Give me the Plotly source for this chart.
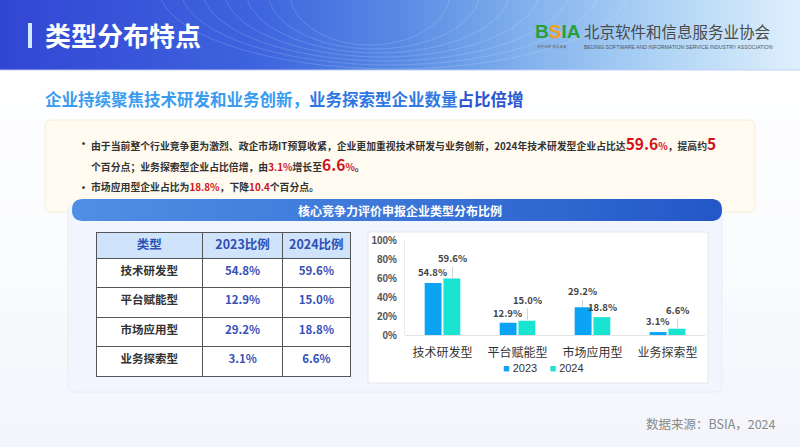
import plotly.graph_objects as go

W, H = 800, 447
FONT = "Noto Sans CJK SC"

# 数据
categories = ["技术研发型", "平台赋能型", "市场应用型", "业务探索型"]
share_2023 = [54.8, 12.9, 29.2, 3.1]
share_2024 = [59.6, 15.0, 18.8, 6.6]
years = ["2023", "2024"]
y_ticks = [0, 20, 40, 60, 80, 100]

# 数据标签抬高(px), 超过10就画引线
lift_2023 = [8, 7, 11, 8]
lift_2024 = [15, 16, 7, 14]

C23 = "#0ba3f4"
C24 = "#19e3d1"


def px(x):
    return x / W


def py(y):
    return 1 - y / H


def mix(stops, t):
    for (t0, c0), (t1, c1) in zip(stops, stops[1:]):
        if t <= t1:
            f = (t - t0) / (t1 - t0)
            return "rgb(%d,%d,%d)" % tuple(round(a + (b - a) * f) for a, b in zip(c0, c1))
    return "rgb(%d,%d,%d)" % stops[-1][1]


def rounded(x0, y0, x1, y1, r):
    rx, ry = r / W, r / H
    a, b, c, d = px(x0), py(y0), px(x1), py(y1)
    return (f"M{a+rx},{b} L{c-rx},{b} Q{c},{b} {c},{b-ry} L{c},{d+ry} Q{c},{d} {c-rx},{d} "
            f"L{a+rx},{d} Q{a},{d} {a},{d+ry} L{a},{b-ry} Q{a},{b} {a+rx},{b} Z")


shapes = []


def rect(x0, y0, x1, y1, fill, line=None, lw=0):
    shapes.append(dict(type="rect", xref="paper", yref="paper", layer="below",
                       x0=px(x0), x1=px(x1), y0=py(y1), y1=py(y0),
                       fillcolor=fill, line=dict(width=lw, color=line or fill)))


# 页面底色 (上白下浅灰蓝)
bg_stops = [(0, (254, 254, 255)), (0.45, (251, 252, 254)), (1, (243, 245, 251))]
for i in range(38):
    rect(-10, 70 + i * 10, 810, 70 + i * 10 + 10.6, mix(bg_stops, i / 37))

# 顶部渐变条
head_stops = [(0, (50, 70, 212)), (0.32, (62, 100, 222)), (0.5, (88, 138, 228)),
              (0.68, (135, 182, 238)), (0.85, (180, 215, 246)), (1, (222, 239, 252))]
for i in range(102):
    rect(i * 8 - 8, -15, i * 8 + 0.6, 70, mix(head_stops, min(max(i - 1, 0) / 99, 1)))
# 等高线装饰
for k in range(7):
    shapes.append(dict(type="circle", xref="paper", yref="paper", layer="below",
                       x0=px(330 - 40 - k * 22), x1=px(330 + 120 + k * 30),
                       y0=py(45 + k * 4), y1=py(-60 - k * 6),
                       line=dict(color="rgba(255,255,255,0.2)", width=0.8)))
rect(0, 69.5, 800, 70.5, "rgba(190,205,245,0.9)")
rect(28, 23, 32, 48, "#cfe9ff")

# 黄色说明框
shapes.append(dict(type="path", xref="paper", yref="paper", layer="below",
                   path=rounded(45, 120, 755, 212, 6), fillcolor="#fffbf0",
                   line=dict(color="#f6eedc", width=1)))

# 下方面板
shapes.append(dict(type="path", xref="paper", yref="paper", layer="below",
                   path=rounded(68, 205, 722, 392, 6), fillcolor="#f2f5fd",
                   line=dict(color="#e8edf8", width=1)))

# 蓝色标题条
band_stops = [(0, (78, 142, 228)), (0.5, (60, 118, 216)), (1, (36, 88, 200))]
n_band = 63
for i in range(n_band):
    x0 = 83 + i * 10
    rect(x0, 199, x0 + 10.6, 221, mix(band_stops, i / (n_band - 1)))
shapes.append(dict(type="path", xref="paper", yref="paper", layer="below",
                   path=rounded(72, 199, 94, 221, 11), fillcolor=mix(band_stops, 0),
                   line=dict(width=0)))
shapes.append(dict(type="path", xref="paper", yref="paper", layer="below",
                   path=rounded(700, 199, 722, 221, 11), fillcolor=mix(band_stops, 1),
                   line=dict(width=0)))

# 图表白框
rect(368, 232, 708, 383, "#ffffff", "#e4e7ee", 1)

fig = go.Figure()

# 表格
fig.add_trace(go.Table(
    domain=dict(x=[px(96), px(350)], y=[py(380), py(232)]),
    columnwidth=[106, 80, 67],
    header=dict(values=["类型", "2023比例", "2024比例"],
                fill_color="#cfe4fb", line=dict(color="#555555", width=1),
                align="center", height=26,
                font=dict(family=FONT, size=12.5, color="#2f4fb3", weight="bold")),
    cells=dict(values=[categories,
                       ["%.1f%%" % v for v in share_2023],
                       ["%.1f%%" % v for v in share_2024]],
               fill_color="#ffffff", line=dict(color="#555555", width=1),
               align="center", height=29.5,
               font=dict(family=FONT, size=11.5, weight="bold",
                         color=[["#333333"] * 4, ["#3550b8"] * 4, ["#3550b8"] * 4])),
))

# 柱状图
fig.add_trace(go.Bar(x=categories, y=share_2023, name=years[0], marker_color=C23,
                     marker_line_width=0))
fig.add_trace(go.Bar(x=categories, y=share_2024, name=years[1], marker_color=C24,
                     marker_line_width=0))

annotations = []


def bar_label(cat, val, shift, lift):
    txt = "<b>%.1f%%</b>" % val
    if lift > 10:
        annotations.append(dict(x=cat, y=val, xref="x", yref="y", text=txt,
                                showarrow=True, ax=0, ay=-lift - 5, xshift=shift,
                                arrowhead=0, arrowwidth=0.8, arrowcolor="#c8c8c8",
                                standoff=0,
                                font=dict(family=FONT, size=9.5, color="#444444")))
    else:
        annotations.append(dict(x=cat, y=val, xref="x", yref="y", text=txt,
                                showarrow=False, yanchor="bottom", xshift=shift,
                                yshift=lift - 6,
                                font=dict(family=FONT, size=9.5, color="#444444")))


for c, v, l in zip(categories, share_2023, lift_2023):
    bar_label(c, v, -10, l)
for c, v, l in zip(categories, share_2024, lift_2024):
    bar_label(c, v, 10, l)


def note(x, y, text, size, color="#333333", xanchor="left", family=FONT):
    annotations.append(dict(x=px(x), y=py(y), xref="paper", yref="paper", text=text,
                            showarrow=False, xanchor=xanchor, yanchor="middle",
                            font=dict(family=family, size=size, color=color)))


RED = "#d0121b"


def red(s, size=None):
    st = "color:%s" % RED
    if size:
        st += ";font-size:%spx" % size
    return "<span style='%s'>%s</span>" % (st, s)


note(43, 35, "<b>类型分布特点</b>", 26, "#ffffff")

# 协会标识
note(533, 31, "<b><span style='color:#2a9e3a'>B</span><span style='color:#f2a019'>S</span>"
     "<span style='color:#2a9e3a'>IA</span></b>", 19, family="Liberation Sans")
note(582, 31, "北京软件和信息服务业协会", 15.5, "#4a4a4a")
note(582, 47, "BEIJING SOFTWARE AND INFORMATION SERVICE INDUSTRY ASSOCIATION", 5.2, "#555555",
     family="Liberation Sans")
note(535, 46, "软件无限  服务未来", 3.5, "#666666")

note(43, 99, "<b><span style='color:#3a9cf0'>企业持续聚焦技术研发和业务创新，</span>"
     "<span style='color:#2f78e4'>业务探索型企业数量</span>"
     "<span style='color:#2b55d2'>占比倍增</span></b>", 16.5)

# 要点
for yy in [143, 187]:
    note(76, yy, "<b>·</b>", 11, "#333333")
big = "<span style='font-size:15.5px'>%.1f</span>%%"
line1 = ("<b>由于当前整个行业竞争更为激烈、政企市场IT预算收紧，企业更加重视技术研发与业务创新，"
         "2024年技术研发型企业占比达" + red(big % share_2024[0])
         + "，提高约" + red("5", 15.5) + "</b>")
line2 = ("<b>个百分点；业务探索型企业占比倍增，由" + red("%.1f%%" % share_2023[3]) + "增长至"
         + red(big % share_2024[3]) + "。</b>")
line3 = ("<b>市场应用型企业占比为" + red("%.1f%%" % share_2024[2]) + "，下降"
         + red("%.1f" % (share_2023[2] - share_2024[2])) + "个百分点。</b>")
note(89, 143, line1, 9.85)
note(89, 164, line2, 9.85)
note(89, 187, line3, 9.85)

note(400, 210, "<b>核心竞争力评价申报企业类型分布比例</b>", 12, "#ffffff", xanchor="center")

# 图例
note(543, 368, "<span style='color:%s'>■</span> 2023    <span style='color:%s'>■</span> 2024"
     % (C23, C24), 11, "#333333", xanchor="center", family="Liberation Sans")

note(778, 423, "数据来源：BSIA，2024", 12.5, "#8a8a8a", xanchor="right")

fig.update_layout(
    width=W, height=H, margin=dict(l=0, r=0, t=0, b=0, pad=0, autoexpand=False),
    paper_bgcolor="#fdfdff", plot_bgcolor="rgba(0,0,0,0)",
    shapes=shapes, annotations=annotations,
    barmode="group", bargap=0.5, bargroupgap=0.1,
    font=dict(family=FONT),
    showlegend=False,
    xaxis=dict(domain=[px(405), px(705)], showgrid=False, showline=False, zeroline=False,
               tickfont=dict(family=FONT, size=12, color="#333333"),
               ticks="outside", ticklen=7, tickcolor="rgba(0,0,0,0)",
               fixedrange=True),
    yaxis=dict(domain=[py(335), py(240)], range=[0, 100], tickvals=y_ticks,
               ticktext=["<b>%d%%</b>" % t for t in y_ticks],
               tickfont=dict(family="Liberation Sans", size=10, color="#555555"),
               showgrid=False, zeroline=True, zerolinecolor="#e2e2e2", zerolinewidth=1,
               showline=True, linecolor="#ececec", linewidth=1,
               ticks="outside", ticklen=5, tickcolor="rgba(0,0,0,0)",
               fixedrange=True),
)

fig.write_html("out.html", config={"displayModeBar": False},
               post_script="document.body.style.margin='0';"
                           "document.documentElement.style.overflow='hidden';"
                           "var gd=document.getElementById('{plot_id}');"
                           "gd.style.position='fixed';gd.style.top='0px';gd.style.left='0px';")
